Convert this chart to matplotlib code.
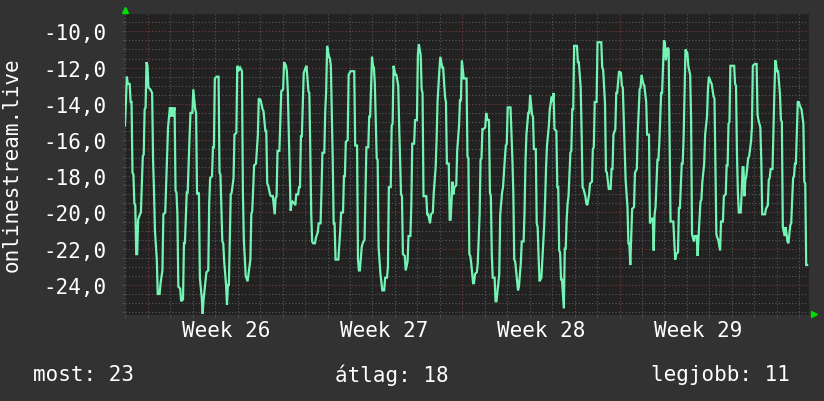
import matplotlib
matplotlib.use("Agg")
import matplotlib.pyplot as plt
import numpy as np
from matplotlib.ticker import FuncFormatter, MultipleLocator, FixedLocator

# ---------------- data ----------------
hours = [
    0, 2, 3, 5, 6, 7, 8, 9, 10, 11, 12, 13, 14, 16, 17, 19, 20, 21, 22, 23, 24, 25, 27, 29, 30,
    31, 32, 34, 35, 37, 38, 40, 41, 43, 44, 45, 46, 48, 49, 50, 51, 53, 54, 55, 56, 57, 59, 60,
    62, 63, 64, 66, 67, 69, 70, 72, 73, 75, 76, 77, 79, 80, 82, 83, 84, 86, 87, 89, 90,
    91, 93, 94, 95, 96, 98, 100, 101, 102, 104, 105, 106, 108, 109, 110, 111, 113, 114, 116,
    117, 119, 120, 121, 123, 125, 126, 127, 129, 131, 134, 135, 136, 138, 140, 142, 143, 145,
    147, 148, 150, 151, 152, 153, 155, 156, 158, 160, 161, 162, 163, 165, 166, 167, 169, 170,
    172, 173, 174, 176, 177, 178, 179, 181,
    182, 183, 185, 186, 187, 188, 189, 191, 193, 194, 196, 197, 198, 199, 200, 201, 203, 204,
    206, 207, 209, 210, 211, 213, 214, 215, 216, 218, 219, 220, 222, 223, 224, 225, 227, 228,
    230, 231, 233, 234, 235, 236, 238, 239, 241, 243, 245, 246, 248, 249, 250, 251, 253, 254,
    256, 257, 258, 260, 261, 262, 264, 265, 266, 267, 269, 270, 271, 273,
    275, 277, 278, 280, 281, 282, 284, 285, 286, 287, 289, 290, 292, 293, 295, 296, 297, 299,
    300, 302, 303, 305, 306, 307, 309, 310, 312, 313, 314, 316, 317, 318, 319, 320, 322, 323,
    324, 326, 327, 329, 330, 332, 333, 334, 336, 337, 339, 340, 342, 343, 344, 346, 347, 348,
    350, 351, 352, 354, 355, 357, 358, 359, 360, 362, 363, 365, 366,
    367, 368, 369, 370, 372, 373, 374, 376, 377, 379, 380, 381, 382, 383, 385, 386, 387, 388,
    389, 390, 391, 392, 393, 395, 396, 397, 399, 400, 401, 403, 404, 406, 407, 408, 409, 411,
    412, 414, 415, 416, 417, 419, 420, 421, 423, 424, 426, 427, 428, 429, 431, 432, 433, 435,
    436, 437, 439, 440, 441, 442, 443, 445, 446, 448, 449, 450, 451, 453, 454, 456,
    457, 458, 459, 461, 462, 463, 464, 465, 466, 467, 469, 470, 471, 472, 473, 474, 476, 477,
    478, 479, 480, 482, 483, 484, 485, 487, 488, 489, 490, 492, 493, 494, 496, 497, 499, 500,
    501, 502, 504, 505, 507, 509, 510, 511, 513, 514, 515, 517, 519, 520, 521, 522, 524, 525,
    526, 528, 530, 531, 532, 534, 535, 537, 538, 539, 540, 541, 542, 544, 545, 547, 548, 550,
    551, 552, 554, 555, 557, 558, 560, 561, 562, 564, 565, 566, 567, 569, 570, 571, 573, 574,
    576, 577, 578, 580, 581, 582, 583, 585, 586, 588, 589, 591, 592, 593, 595, 596, 597, 598,
    599, 601, 602, 604, 605, 606, 608, 609, 611, 612, 613, 615, 616, 617, 619, 620, 622, 623,
    624, 626, 627, 629, 630, 632, 633, 634, 636, 637, 639, 640, 642,
    643, 644, 645, 646, 647, 649, 651, 652, 653, 654, 655, 656, 658, 659, 660, 661, 662, 663,
    664, 666, 667, 669, 670, 671, 673, 675, 676, 677, 679, 680, 681, 683, 684, 685, 687, 688,
    689, 690, 692, 693, 694, 695, 697, 698, 700, 701, 702, 703, 705, 706, 708, 709, 711, 712,
    714, 715, 716, 717, 719, 720, 722, 723, 725, 726, 727, 728, 729,
]
values = [
    -15.2, -12.5, -12.9, -12.9, -13.9, -13.9, -17.8, -17.9, -19.5, -19.6, -22.3, -22.3, -20.4,
    -20.1, -20.0, -16.9, -16.8, -14.3, -14.2, -11.7, -11.9, -13.1, -13.2, -13.4, -17.1,
    -18.8, -21.0, -22.6, -24.5, -24.5, -23.9, -23.2, -20.1, -20.0, -18.4, -16.9, -15.3, -14.2,
    -14.7, -14.2, -14.7, -14.2, -18.8, -18.9, -20.1, -24.1, -24.2, -24.9,
    -24.8, -21.7, -21.7, -18.9, -18.9, -15.8, -14.5, -14.5, -13.2, -14.3, -14.5, -19.0, -18.9,
    -23.6, -24.7, -25.6, -24.8, -23.8, -23.3, -23.2, -19.5,
    -18.1, -18.0, -16.4, -16.4, -12.6, -12.5, -12.5, -17.8, -17.9, -21.6, -21.7, -22.7, -24.0,
    -25.1, -24.0, -24.0, -19.0, -18.9, -18.1,
    -15.7, -15.6, -11.9, -12.2, -12.0, -12.2, -18.9, -21.5, -23.5, -23.8, -22.6, -20.1, -19.9,
    -17.4, -17.3, -15.7, -13.7, -13.8,
    -14.3, -14.4, -15.5, -15.5, -18.4, -18.5, -19.0, -19.1, -19.1, -20.1, -19.2, -19.1, -16.6,
    -16.6, -15.0, -13.3, -13.2, -11.7,
    -11.9, -12.2, -13.3, -17.8, -19.9, -19.5, -19.4, -19.5,
    -19.6, -19.0, -19.0, -18.6, -18.6, -15.8, -15.8, -12.3, -12.0, -11.9, -13.3, -13.4, -16.5,
    -20.0, -21.6, -21.7, -21.7, -21.4,
    -21.1, -20.6, -20.6, -18.8, -16.7, -16.7, -14.4, -13.3, -10.8, -11.4, -11.5, -11.9, -17.1,
    -20.6, -20.6, -22.6, -22.6, -22.6,
    -21.0, -20.0, -20.0, -18.0, -18.0, -16.1, -16.0, -12.4, -12.2, -12.2, -12.2, -16.3, -16.3,
    -22.6, -23.2, -23.2, -21.9, -21.7,
    -21.5, -19.0, -16.4, -16.4, -14.7, -14.7, -11.4, -11.9, -12.0, -12.9, -17.0, -17.1, -21.9,
    -23.4,
    -24.3, -24.3, -23.6, -23.6, -23.0, -18.6, -18.6, -15.2, -15.1, -11.9, -12.4, -12.4, -13.0,
    -15.2, -19.0, -19.1, -22.3, -22.4,
    -23.2, -22.7, -21.3, -21.3, -19.6, -16.2, -16.2, -14.9, -14.9, -11.3, -10.7, -11.3, -13.2,
    -13.4, -19.1, -19.1, -19.1, -20.1,
    -20.1, -20.6, -20.1, -20.0, -18.9, -17.5, -16.0, -13.9, -12.1, -11.4, -12.0, -12.0, -13.6,
    -13.9, -17.3, -17.3, -20.4, -20.4,
    -18.3, -19.0, -18.6, -18.5, -16.6, -15.2, -13.8, -13.8, -11.6, -12.6, -12.6, -12.6, -16.9,
    -17.0, -22.3, -22.4, -22.8, -23.9, -23.9, -23.4, -23.3, -22.8, -20.1, -17.1, -17.0, -15.4,
    -15.4, -15.3, -14.5, -14.8, -14.9,
    -14.9, -18.9, -19.1, -22.3, -23.6, -23.6, -24.9, -24.9, -23.9, -23.4, -20.1, -18.9, -18.6,
    -17.0, -16.3, -16.2, -14.2, -14.2,
    -14.2, -17.0, -18.9, -22.6, -22.7, -23.8, -24.3, -24.1, -22.8, -21.6, -21.6, -20.0, -17.2,
    -15.7, -14.5, -14.5, -13.5, -14.6,
    -14.7, -16.5, -16.5, -20.6, -20.8, -22.4, -23.8, -23.6, -22.6, -20.7, -19.3, -17.5, -16.3,
    -15.2, -14.3, -13.6,
    -13.9, -13.4, -15.4, -15.5, -18.6, -18.6, -22.1, -22.2, -23.7, -23.7, -25.3, -22.0, -22.0,
    -20.4, -19.5, -19.1, -16.7, -16.6,
    -14.3, -14.3, -10.8, -10.8, -10.8, -11.7, -11.7, -13.1, -15.6, -18.6, -18.7, -19.1, -19.5,
    -19.6, -19.0, -18.4, -18.3, -16.5,
    -16.4, -13.9, -13.9, -10.6, -10.6, -10.6, -12.0, -12.1, -14.0, -17.7, -17.8, -18.7, -18.7,
    -17.6, -17.6, -15.7, -15.4, -13.4,
    -13.4, -12.2, -12.3, -13.0, -13.1, -16.4, -18.2, -19.7, -21.7, -21.7, -22.9, -21.4, -19.8,
    -19.7, -17.8, -17.6, -15.6, -13.2,
    -13.1, -12.4, -12.9, -13.0, -13.9, -15.7, -15.7, -20.6, -20.4, -20.3, -22.1, -20.1, -19.7,
    -17.1, -17.1, -16.2, -13.4, -13.4,
    -10.5, -10.6, -11.6, -10.9, -11.0, -16.0, -20.5, -20.5, -20.5, -22.6, -22.3, -22.2, -19.7,
    -19.8, -17.3, -17.3, -15.9, -13.4,
    -11.0, -11.2, -11.9, -12.4, -14.9, -21.2, -21.6, -21.3, -21.3, -22.4, -21.3, -19.4, -19.3,
    -18.3, -17.3, -15.7, -14.7, -13.2,
    -12.5, -12.8, -12.9, -13.6, -13.7, -21.2, -21.4, -21.5, -22.1, -20.5, -20.5, -19.1, -19.0,
    -17.4, -17.4, -15.1, -15.0, -11.9, -11.9, -11.9, -12.9, -13.0, -16.7, -18.9, -20.0, -20.0,
    -19.0, -17.5, -17.5, -19.1, -18.2,
    -18.0, -17.0, -16.9, -16.1, -15.3, -11.9, -11.8, -11.8, -14.6, -14.9, -15.3, -17.1, -20.1,
    -20.1, -20.1, -19.8, -19.6, -18.2,
    -18.1, -17.6, -17.6, -15.4, -13.4, -11.6, -12.2, -12.2, -13.5, -14.9, -15.0, -20.8, -21.3,
    -20.8, -21.6, -21.7, -20.7, -20.6,
    -18.1, -18.0, -17.3, -17.3, -13.9, -13.9, -14.2, -14.3, -15.1, -18.3, -18.4, -22.9, -22.9,
]
week_numbers = [26, 27, 28, 29]
first_week_start_hour = 24.5
total_hours = 731
y_range = (-25.66, -9.04)
y_label = "onlinestream.live"
stat_labels = ["most", "átlag", "legjobb"]
stat_values = [23, 18, 11]

# ---------------- style ----------------
W, H = 824, 402
BG = "#323232"
PLOT_BG = "#222222"
LINE = "#74f4b4"
MINOR_GRID = "#5a5a5a"
MAJOR_GRID = "#7e3a3a"
ARROW = "#00dd00"
TXT = "#ffffff"
MONO = "DejaVu Sans Mono"
FS = 15

fig = plt.figure(figsize=(W / 100, H / 100), dpi=100, facecolor=BG)
ax = fig.add_axes([125 / W, 1 - 316 / H, 684 / W, 301 / H])
ax.set_facecolor(PLOT_BG)

ax.plot(hours, values, color=LINE, lw=1.6, solid_joinstyle="miter", zorder=3)

ax.set_xlim(0, total_hours)
ax.set_ylim(*y_range)

week_starts = first_week_start_hour + 168 * np.arange(len(week_numbers) + 1)
day_lines = np.arange(first_week_start_hour - 24, total_hours, 24)
ax.xaxis.set_major_locator(FixedLocator(week_starts))
ax.xaxis.set_minor_locator(FixedLocator(day_lines))
ax.yaxis.set_major_locator(MultipleLocator(2))
ax.yaxis.set_minor_locator(MultipleLocator(0.5))
ax.yaxis.set_major_formatter(FuncFormatter(lambda v, p: f"{v:.1f}".replace(".", ",")))
ax.xaxis.set_major_formatter(FuncFormatter(lambda v, p: ""))

dots = (0, (1, 2))
ax.grid(which="minor", color=MINOR_GRID, linestyle=dots, linewidth=0.8)
ax.grid(which="major", color=MAJOR_GRID, linestyle=dots, linewidth=0.8)
ax.set_axisbelow(True)

ax.tick_params(which="both", direction="out", length=2, width=0.8, color="#4a4a4a")
ax.tick_params(axis="y", which="major", pad=11, labelsize=FS, labelcolor=TXT)
for lab in ax.get_yticklabels():
    lab.set_family(MONO)

for s in ax.spines.values():
    s.set_visible(False)

# week labels between week starts
for wn, ws in zip(week_numbers, week_starts[:-1]):
    ax.text(ws + 84, -0.05, f"Week {wn}", transform=ax.get_xaxis_transform(),
            ha="center", va="center", fontsize=FS, family=MONO, color=TXT)

# axis arrows
ax.plot([0], [1.013], marker="^", markersize=4.5, color=ARROW, transform=ax.transAxes,
        clip_on=False, zorder=5)
ax.plot([1.0066], [0.003], marker=">", markersize=4.5, color=ARROW, transform=ax.transAxes,
        clip_on=False, zorder=5)

fig.text(12 / W, 1 - 165 / H, y_label, rotation=90, ha="center", va="center",
         fontsize=FS, family=MONO, color=TXT)

stat_x = [33 / W, 392 / W, 790 / W]
stat_ha = ["left", "center", "right"]
for lab, val, sx, ha in zip(stat_labels, stat_values, stat_x, stat_ha):
    fig.text(sx, 1 - 375 / H, f"{lab}: {val}", ha=ha, va="center",
             fontsize=FS, family=MONO, color=TXT)

fig.savefig("out.png", dpi=100, facecolor=BG)
